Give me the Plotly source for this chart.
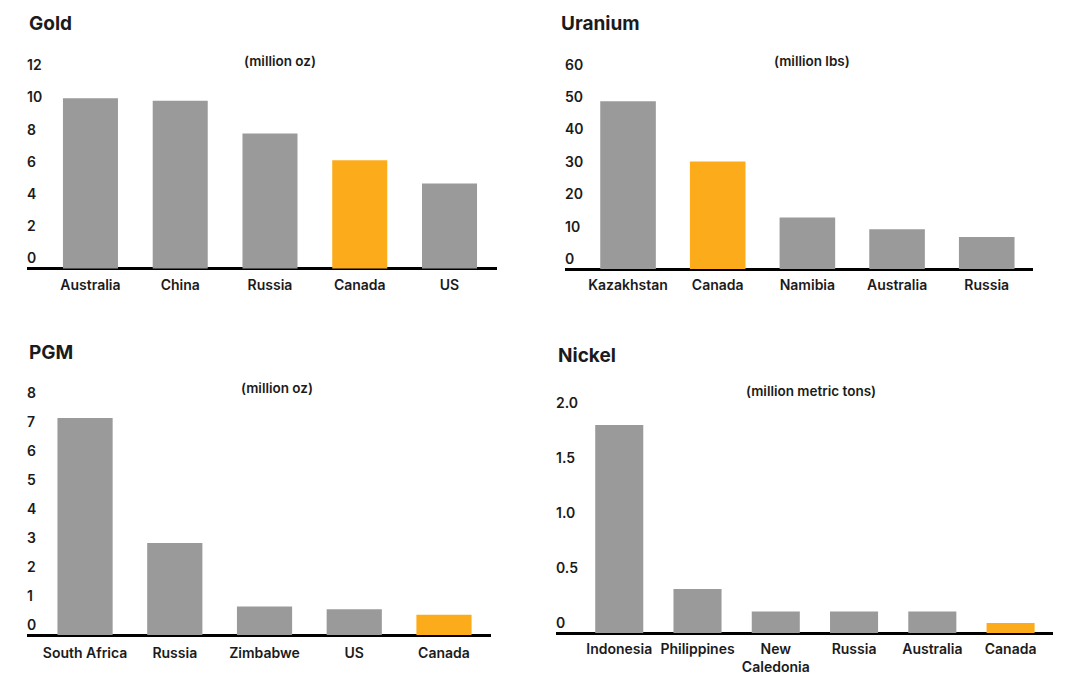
import plotly.graph_objects as go

# data
gold_countries = ["Australia", "China", "Russia", "Canada", "US"]
gold_values = [10.58, 10.42, 8.39, 6.73, 5.28]

uranium_countries = ["Kazakhstan", "Canada", "Namibia", "Australia", "Russia"]
uranium_values = [51.8, 33.2, 15.9, 12.3, 9.9]

pgm_countries = ["South Africa", "Russia", "Zimbabwe", "US", "Canada"]
pgm_values = [7.48, 3.17, 0.98, 0.89, 0.70]

nickel_countries = ["Indonesia", "Philippines", "New<br>Caledonia", "Russia", "Australia", "Canada"]
nickel_values = [1.89, 0.40, 0.195, 0.195, 0.195, 0.092]

gold_ticks = [0, 2, 4, 6, 8, 10, 12]
uranium_ticks = [0, 10, 20, 30, 40, 50, 60]
pgm_ticks = [0, 1, 2, 3, 4, 5, 6, 7, 8]
nickel_ticks = [0, 0.5, 1.0, 1.5, 2.0]
nickel_ticktext = ["0", "0.5", "1.0", "1.5", "2.0"]

GREY = "#9a9a9a"
ORANGE = "#fcac1b"
INK = "#1b1b1b"
FONT = "Inter"
W, H = 1080, 687
PAD = 14  # px of empty range kept under zero so the "0" label is not hidden


def px_x(p):
    return p / W


def px_y(p):
    return 1 - p / H


def colours(countries):
    return [ORANGE if c == "Canada" else GREY for c in countries]


fig = go.Figure()

# suffix, countries, values, x domain px, x range, baseline px, px per unit, top value, ticks, ticktext, bar width, label gap
panels = [
    ("", gold_countries, gold_values, (27, 497), (-0.707, 4.529), 268.5, 16.1, 13.5, gold_ticks, None, 0.613, 6),
    ("2", uranium_countries, uranium_values, (565, 1033), (-0.703, 4.516), 269, 3.24, 67, uranium_ticks, None, 0.62, 6),
    ("3", pgm_countries, pgm_values, (27, 491), (-0.647, 4.524), 635, 29.0, 9, pgm_ticks, None, 0.615, 8),
    ("4", nickel_countries, nickel_values, (556, 1053), (-0.808, 5.542), 633, 110.1, 2.25, nickel_ticks, nickel_ticktext, 0.614, 6),
]

for suffix, countries, values, xd, xr, base_px, scale, top, ticks, ticktext, bw, gap in panels:
    bottom = -PAD / scale
    fig.add_trace(go.Bar(
        x=countries, y=values, marker_color=colours(countries), marker_line_width=0,
        width=bw, xaxis="x" + suffix, yaxis="y" + suffix, showlegend=False,
    ))
    fig.layout["xaxis" + suffix] = dict(
        domain=[px_x(xd[0]), px_x(xd[1])], range=list(xr),
        anchor="free", position=px_y(base_px),
        showline=False, ticks="", showgrid=False, zeroline=False, ticklabelstandoff=gap,
        tickfont=dict(family=FONT, size=14, color=INK, weight=600),
        fixedrange=True,
    )
    fig.layout["yaxis" + suffix] = dict(
        domain=[px_y(base_px + PAD), px_y(base_px - top * scale)], range=[bottom, top],
        anchor="x" + suffix, showline=False, showgrid=False,
        zeroline=True, zerolinecolor="black", zerolinewidth=2.5, ticks="",
        tickvals=ticks, ticktext=ticktext if ticktext else [str(t) for t in ticks],
        ticklabelposition="inside", ticklabelshift=-10, ticklabelstandoff=-3,
        tickfont=dict(family=FONT, size=14, color=INK, weight=600),
        fixedrange=True,
    )

titles = [("Gold", 27, 24), ("Uranium", 559, 24), ("PGM", 27, 352), ("Nickel", 556, 355)]
units = [("(million oz)", 280, 60.5), ("(million lbs)", 812, 60.5),
         ("(million oz)", 277, 387.7), ("(million metric tons)", 811, 390.7)]

for text, x, y in titles:
    fig.add_annotation(text=text, x=px_x(x), y=px_y(y), xref="paper", yref="paper",
                       xanchor="left", yanchor="middle", showarrow=False,
                       font=dict(family=FONT, size=19, color=INK, weight=700))
for text, x, y in units:
    fig.add_annotation(text=text, x=px_x(x), y=px_y(y), xref="paper", yref="paper",
                       xanchor="center", yanchor="middle", showarrow=False,
                       font=dict(family=FONT, size=13.5, color=INK, weight=600))

fig.update_layout(
    width=W, height=H, margin=dict(l=0, r=0, t=0, b=0),
    plot_bgcolor="white", paper_bgcolor="white", bargap=0.39,
)

fig.write_html("out.html", config={"displayModeBar": False},
               post_script="document.body.style.margin='0';")
